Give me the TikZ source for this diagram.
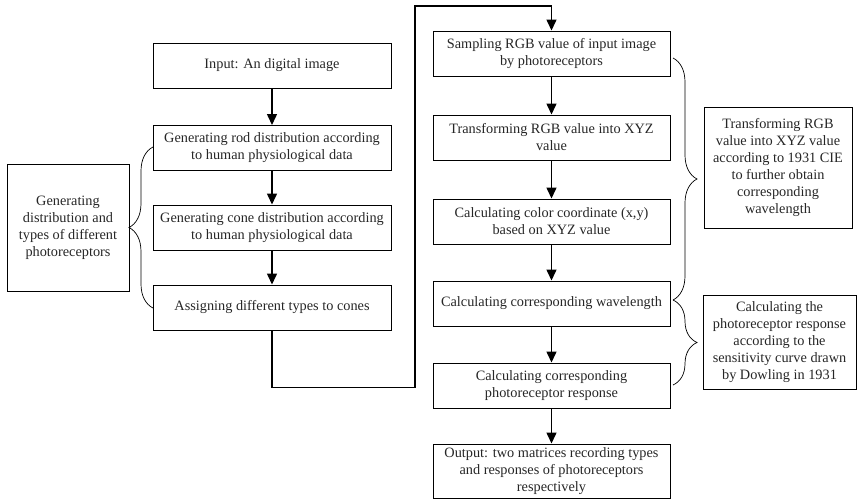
\documentclass[tikz,border=0pt]{standalone}
\usepackage{fontspec}
\setmainfont{Liberation Serif}
\usetikzlibrary{decorations.pathreplacing, arrows.meta, positioning}

\begin{document}
\begin{tikzpicture}[x=1pt, y=-1pt,
                    every node/.style={font=\fontsize{14.3}{17}\selectfont, text=black!85},
                    block/.style={draw, line width=1pt, align=center, minimum width=238pt, minimum height=45pt, inner sep=2pt},
                    note/.style={draw, line width=1pt, align=center, inner sep=2pt},
                    flow/.style={-{Triangle[width=10pt,length=11pt]}, line width=1.5pt},
                    every edge/.style={draw, flow},
                    curly/.style={draw, decorate, decoration={brace, amplitude=24pt}, line width=0.7pt}]

  \useasboundingbox (0,0) rectangle (857,499);

  % left column
  \node[block] at (272,65.5)   (In)     {Input: An digital image};
  \node[block] at (272,148)    (Rod)    {Generating rod distribution according\\to human physiological data};
  \node[block] at (272,227.5)  (Cone)   {Generating cone distribution according\\to human physiological data};
  \node[block] at (272,307.5)  (Assign) {Assigning different types to cones};

  % right column
  \node[block, minimum width=237pt] at (551.5,53.5)  (Samp)  {Sampling RGB value of input image\\by photoreceptors};
  \node[block, minimum width=237pt] at (551.5,137.5) (XYZ)   {Transforming RGB value into XYZ\\value};
  \node[block, minimum width=237pt] at (551.5,221.5) (Coord) {Calculating color coordinate (x,y)\\based on XYZ value};
  \node[block, minimum width=237pt] at (551.5,303.5) (Wave)  {Calculating corresponding wavelength};
  \node[block, minimum width=237pt] at (551.5,385.5) (Resp)  {Calculating corresponding\\photoreceptor response};
  \node[block, minimum width=237pt, minimum height=54pt] at (551.5,471) (Out)
        {Output: two matrices recording types\\and responses of photoreceptors\\respectively};

  % side notes
  \node[note, minimum width=122pt, minimum height=127pt] at (68,227.5)  (NoteL)
        {Generating\\distribution and\\types of different\\photoreceptors};
  \node[note, minimum width=148pt, minimum height=121pt] at (778,167.5) (NoteA)
        {Transforming RGB\\value into XYZ value\\according to 1931 CIE\\to further obtain\\corresponding\\wavelength};
  \node[note, minimum width=153pt, minimum height=94pt] at (779.5,342) (NoteB)
        {Calculating the\\photoreceptor response\\according to the\\sensitivity curve drawn\\by Dowling in 1931};

  \path (In)    edge (Rod)
        (Rod)   edge (Cone)
        (Cone)  edge (Assign)
        (Samp)  edge (XYZ)
        (XYZ)   edge (Coord)
        (Coord) edge (Wave)
        (Wave)  edge (Resp)
        (Resp)  edge (Out);

  % jump from the left column over to the right one
  \coordinate (turn) at (415,6);
  \draw[flow] (Assign.south) -- ++(0,57) -| (turn) -| (Samp.north);

  % braces
  \draw[curly] (153,308) -- (153,147);
  \draw[curly] (673,58) -- (673,300);
  \draw[curly] (673,300) -- (673,385);

\end{tikzpicture}
\end{document}
